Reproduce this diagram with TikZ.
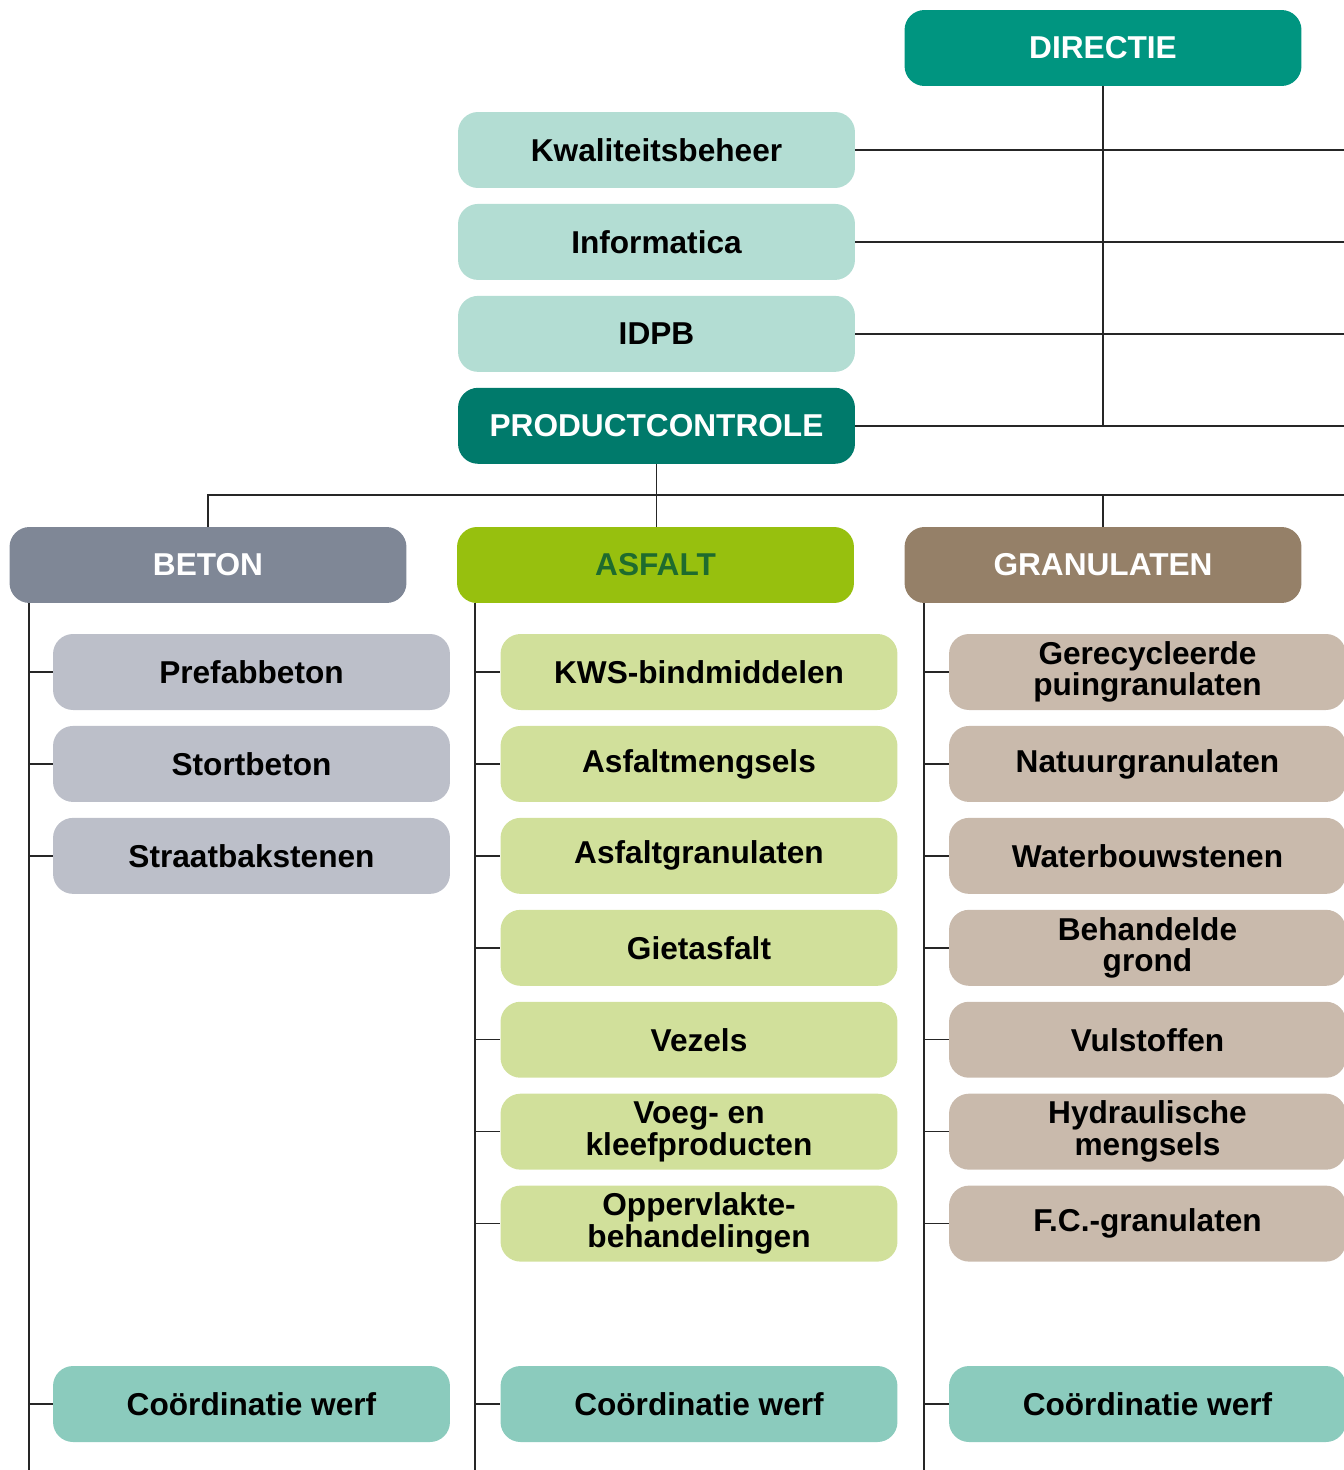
\documentclass[tikz,border=0pt]{standalone}
\usepackage{fontspec}
\setmainfont{Liberation Sans}
\usetikzlibrary{positioning}
\definecolor{directie}{HTML}{009580}
\definecolor{dienst}{HTML}{B3DDD3}
\definecolor{controle}{HTML}{007A6B}
\definecolor{beton}{HTML}{7F8796}
\definecolor{betonlicht}{HTML}{BCBFC9}
\definecolor{asfalt}{HTML}{97C00E}
\definecolor{asfalttekst}{HTML}{1E6B2E}
\definecolor{asfaltlicht}{HTML}{D1E09B}
\definecolor{granulaat}{HTML}{958068}
\definecolor{granulaatlicht}{HTML}{C9BAAC}
\definecolor{werf}{HTML}{8BCBBD}
\tikzset{box/.style={rounded corners=0.4cm,minimum width=7.94cm,minimum height=1.52cm,inner sep=0pt,align=center,font=\bfseries\fontsize{18}{18}\selectfont}}
\tikzset{head/.style={box,text=white}}
\tikzset{line/.style={draw=black!85,line width=0.8pt}}

\begin{document}
\begin{tikzpicture}[x=0.02cm,y=-0.02cm,node distance=0.305cm]
\useasboundingbox (0,0) rectangle (1344,1470);
\coordinate (rechts) at (1344,0);
\coordinate (onder) at (0,1470);
\coordinate (split) at (656,495);
% top
\node[head,fill=directie] (dir) at (1103,48) {DIRECTIE};
\node[box,fill=dienst] (kw) at (656.5,150) {Kwaliteitsbeheer};
\node[box,fill=dienst,below=of kw] (info) {Informatica};
\node[box,fill=dienst,below=of info] (idpb) {IDPB};
\node[head,fill=controle,below=of idpb] (prod) {PRODUCTCONTROLE};
\draw[line] (dir.south) -- (dir.south |- prod.east);
\draw[line] (kw.east) -- (kw.east -| rechts);
\draw[line] (info.east) -- (info.east -| rechts);
\draw[line] (idpb.east) -- (idpb.east -| rechts);
\draw[line] (prod.east) -- (prod.east -| rechts);
% afdelingen
\node[head,fill=beton] (bet) at (208,565) {BETON};
\node[box,fill=asfalt,text=asfalttekst] (asf) at (655.5,565) {ASFALT};
\node[head,fill=granulaat] (gra) at (1103,565) {GRANULATEN};
\draw[line] (prod.south) -- (prod.south |- asf.north);
\draw[line] (bet.north) |- (rechts |- split);
\draw[line] (gra.north) -- (gra.north |- split);
\coordinate (bl) at (29,603);
\coordinate (al) at (475,603);
\coordinate (gl) at (924,603);
\draw[line] (bl) -- (bl |- onder);
\draw[line] (al) -- (al |- onder);
\draw[line] (gl) -- (gl |- onder);
% beton
\node[box,fill=betonlicht] (b1) at (251.5,672) {Prefabbeton};
\node[box,fill=betonlicht,below=of b1] (b2) {Stortbeton};
\node[box,fill=betonlicht,below=of b2] (b3) {Straatbakstenen};
\node[box,fill=werf] (b4) at (251.5,1404) {Coördinatie werf};
\draw[line] (b1.west -| bl) -- (b1.west);
\draw[line] (b2.west -| bl) -- (b2.west);
\draw[line] (b3.west -| bl) -- (b3.west);
\draw[line] (b4.west -| bl) -- (b4.west);
% asfalt
\node[box,fill=asfaltlicht] (a1) at (699,672) {KWS-bindmiddelen};
\node[box,fill=asfaltlicht,below=of a1] (a2) {Asfaltmengsels};
\node[box,fill=asfaltlicht,below=of a2] (a3) {Asfaltgranulaten};
\node[box,fill=asfaltlicht,below=of a3] (a4) {Gietasfalt};
\node[box,fill=asfaltlicht,below=of a4] (a5) {Vezels};
\node[box,fill=asfaltlicht,below=of a5] (a6) {Voeg- en\\kleefproducten};
\node[box,fill=asfaltlicht,below=of a6] (a7) {Oppervlakte-\\behandelingen};
\node[box,fill=werf] (a8) at (699,1404) {Coördinatie werf};
\draw[line] (a1.west -| al) -- (a1.west);
\draw[line] (a2.west -| al) -- (a2.west);
\draw[line] (a3.west -| al) -- (a3.west);
\draw[line] (a4.west -| al) -- (a4.west);
\draw[line] (a5.west -| al) -- (a5.west);
\draw[line] (a6.west -| al) -- (a6.west);
\draw[line] (a7.west -| al) -- (a7.west);
\draw[line] (a8.west -| al) -- (a8.west);
% granulaten
\node[box,fill=granulaatlicht] (g1) at (1147.5,672) {Gerecycleerde\\puingranulaten};
\node[box,fill=granulaatlicht,below=of g1] (g2) {Natuurgranulaten};
\node[box,fill=granulaatlicht,below=of g2] (g3) {Waterbouwstenen};
\node[box,fill=granulaatlicht,below=of g3] (g4) {Behandelde\\grond};
\node[box,fill=granulaatlicht,below=of g4] (g5) {Vulstoffen};
\node[box,fill=granulaatlicht,below=of g5] (g6) {Hydraulische\\mengsels};
\node[box,fill=granulaatlicht,below=of g6] (g7) {F.C.-granulaten};
\node[box,fill=werf] (g8) at (1147.5,1404) {Coördinatie werf};
\draw[line] (g1.west -| gl) -- (g1.west);
\draw[line] (g2.west -| gl) -- (g2.west);
\draw[line] (g3.west -| gl) -- (g3.west);
\draw[line] (g4.west -| gl) -- (g4.west);
\draw[line] (g5.west -| gl) -- (g5.west);
\draw[line] (g6.west -| gl) -- (g6.west);
\draw[line] (g7.west -| gl) -- (g7.west);
\draw[line] (g8.west -| gl) -- (g8.west);
\end{tikzpicture}
\end{document}
